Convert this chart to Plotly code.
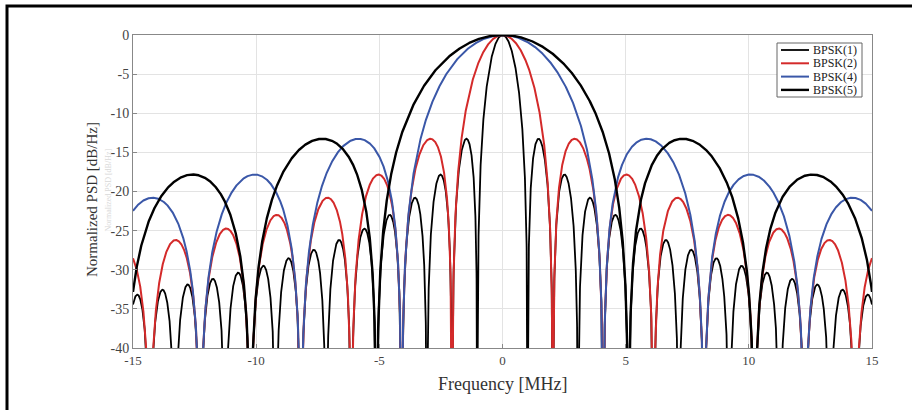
import numpy as np
import plotly.graph_objects as go

# ---- data ----
labels = ["BPSK(1)", "BPSK(2)", "BPSK(4)", "BPSK(5)"]
chip_multiples = [1, 2, 4, 5]          # n in BPSK(n)
base_chip_rate_mhz = 1.023             # chip rate = n * 1.023 MHz
colors = ["#000000", "#d42a2a", "#3a57a8", "#000000"]
widths = [1.8, 2.0, 2.0, 2.4]
x_ticks = [-15, -10, -5, 0, 5, 10, 15]
x_tick_text = ["-15", "-10", "-5", "0", "5", "10", "15"]
y_ticks = [0, -5, -10, -15, -20, -25, -30, -35, -40]
y_tick_text = ["0", "-5", "-10", "-15", "-20", "-25", "-30", "-35", "-40"]

freq = np.linspace(-15, 15, 12001)

fig = go.Figure()
for lab, n, col, w in zip(labels, chip_multiples, colors, widths):
    fc = n * base_chip_rate_mhz
    psd = np.sinc(freq / fc) ** 2
    psd_db = 10 * np.log10(np.maximum(psd, 1e-8))
    psd_db = np.maximum(psd_db, -60)
    fig.add_trace(go.Scatter(x=freq, y=psd_db, mode="lines", name=lab,
                             line=dict(color=col, width=w), showlegend=False))

W, H = 912, 410
ml, mr, mt, mb = 133, 40, 35, 62
pw, ph = W - ml - mr, H - mt - mb

def px_x(p):
    return (p - ml) / pw

def px_y(p):
    return 1 - (p - mt) / ph

serif = "Liberation Serif"
fig.update_layout(
    width=W, height=H,
    margin=dict(l=ml, r=mr, t=mt, b=mb),
    paper_bgcolor="white", plot_bgcolor="white",
    font=dict(family=serif, color="#333333", size=13),
    showlegend=False,
    xaxis=dict(range=[-15, 15], tickvals=x_ticks, ticktext=x_tick_text,
               showgrid=True, gridcolor="#e3e3e3", gridwidth=1,
               zeroline=False, showline=True, linecolor="#888888", linewidth=1,
               mirror=True, ticks="inside", ticklen=4, tickcolor="#888888",
               tickfont=dict(family=serif, size=13, color="#444444")),
    yaxis=dict(range=[-40, 0], tickvals=y_ticks, ticktext=y_tick_text,
               showgrid=True, gridcolor="#e3e3e3", gridwidth=1,
               zeroline=False, showline=True, linecolor="#888888", linewidth=1,
               mirror=True, ticks="inside", ticklen=4, tickcolor="#888888",
               tickfont=dict(family=serif, size=14, color="#444444")),
)

# custom compact legend (box + entries built from the lists above)
lg_x0, lg_x1, lg_y0, lg_y1 = 777, 862, 43, 97
fig.add_shape(type="rect", xref="paper", yref="paper",
              x0=px_x(lg_x0), x1=px_x(lg_x1), y0=px_y(lg_y1), y1=px_y(lg_y0),
              line=dict(color="#666666", width=1), fillcolor="white",
              layer="above")
for i, (lab, col, w) in enumerate(zip(labels, colors, widths)):
    yy = 50 + i * 13.3
    fig.add_shape(type="line", xref="paper", yref="paper",
                  x0=px_x(781), x1=px_x(809), y0=px_y(yy), y1=px_y(yy),
                  line=dict(color=col, width=w), layer="above")
    fig.add_annotation(text=lab, xref="paper", yref="paper",
                       x=px_x(811), y=px_y(yy), xanchor="left", yanchor="middle",
                       showarrow=False,
                       font=dict(family=serif, size=12, color="#222222"))

# axis titles
fig.add_annotation(text="Frequency [MHz]", xref="paper", yref="paper",
                   x=px_x(502), y=px_y(384), yanchor="middle", showarrow=False,
                   font=dict(family=serif, size=18, color="#333333"))
fig.add_annotation(text="Normalized PSD [dB/Hz]", xref="paper", yref="paper",
                   x=px_x(82), y=px_y(200), showarrow=False, textangle=-90,
                   font=dict(family=serif, size=15, color="#333333"))
fig.add_annotation(text="Normalized PSD [dB/Hz]", xref="paper", yref="paper",
                   x=px_x(101), y=px_y(190), showarrow=False, textangle=-90,
                   font=dict(family=serif, size=8, color="#d8d8d8"))

# outer frame
fig.add_shape(type="rect", xref="paper", yref="paper",
              x0=px_x(7), y0=px_y(440), x1=px_x(1000), y1=px_y(6),
              line=dict(color="black", width=3), fillcolor="rgba(0,0,0,0)",
              layer="above")

fig.write_html("out.html")
